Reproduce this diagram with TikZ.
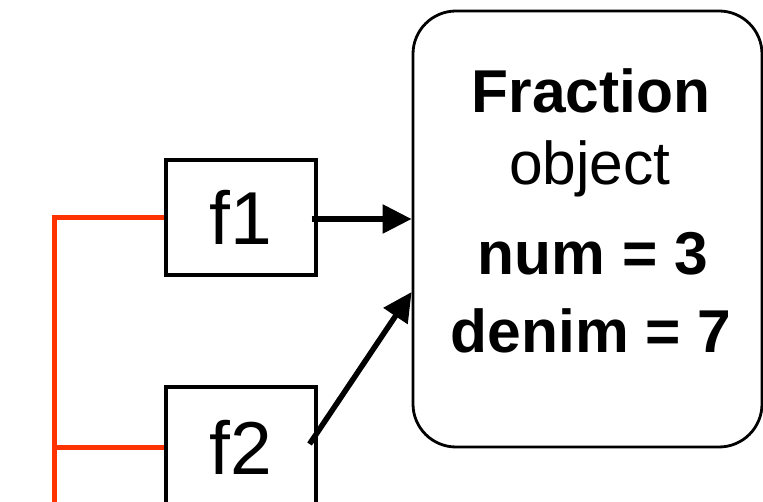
\documentclass[tikz,border=0pt]{standalone}
\usepackage{fontspec}
\setmainfont{Liberation Sans}
\usetikzlibrary{arrows.meta}
\definecolor{redline}{HTML}{FF3300}
\begin{document}
\begin{tikzpicture}[x=1pt,y=-1pt,
  varbox/.style={draw=black,line width=3.2pt,minimum width=150pt,inner sep=0pt,font=\fontsize{75}{75}\selectfont},
  objbox/.style={draw=black,line width=2.8pt,rounded corners=43pt,minimum width=349pt,minimum height=436pt,inner sep=0pt},
  objtext/.style={anchor=base,inner sep=0pt,font=\fontsize{60.5}{60}\selectfont},
  ptr/.style={line width=5.5pt,-{Triangle[length=29pt,width=28pt]}},
  tree/.style={draw=redline,line width=5pt}]
\useasboundingbox (0,0) rectangle (763,502);
\node[varbox,minimum height=115pt] (f1) at (241,217.5) {f1};
\node[varbox,minimum height=120pt] (f2) at (241,447) {f2};
\node[objbox] (fobj) at (587.5,229) {};
\node[objtext] (t1) at (591,113) {\bfseries Fraction};
\node[objtext] (t2) at (590,185) {object};
\node[objtext] (t3) at (593,275) {\bfseries num = 3};
\node[objtext] (t4) at (591,353) {\bfseries denim = 7};
\coordinate (bot) at (54,515);
\draw[tree] (f1.west) -| (bot);
\draw[tree] (f2.west) -- (f2.west -| bot);
\draw[ptr] ([xshift=-6pt,yshift=-1.5pt]f1.east) -- ([yshift=-1.5pt]fobj.west |- f1.east);
\draw[ptr] ([xshift=-8pt,yshift=3pt]f2.east) -- ([yshift=-63pt]fobj.west);
\end{tikzpicture}
\end{document}
